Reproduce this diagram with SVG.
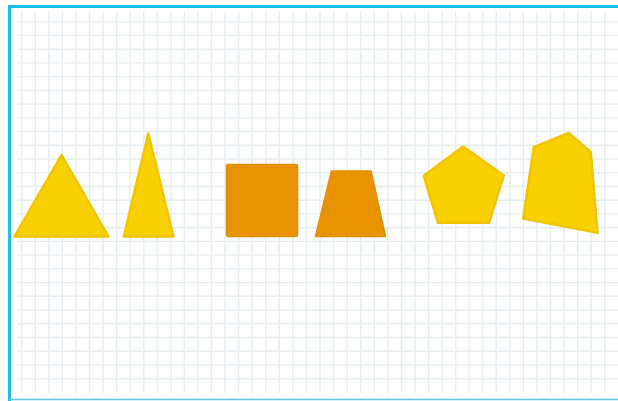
<svg xmlns="http://www.w3.org/2000/svg" width="618" height="401" viewBox="0 0 618 401">
<defs>
<style>
.grid{stroke:#e6edf0;stroke-width:1.4;fill:none}
.yel{fill:#f9d100;stroke:#f1c400;stroke-width:2.5;stroke-linejoin:round}
.org{fill:#e99300;stroke:#e38d00;stroke-width:1.5;stroke-linejoin:round}
</style>
</defs>
<rect x="0" y="0" width="618" height="401" fill="#ffffff"/>
<g id="grid">
<path class="grid" d="M21.7 11V393M35.3 11V393M48.8 11V393M62.4 11V393M75.9 11V393M89.5 11V393M103.1 11V393M116.6 11V393M130.2 11V393M143.7 11V393M157.3 11V393M170.9 11V393M184.4 11V393M198 11V393M211.5 11V393M225.1 11V393M238.7 11V393M252.2 11V393M265.8 11V393M279.3 11V393M292.9 11V393M306.5 11V393M320 11V393M333.6 11V393M347.1 11V393M360.7 11V393M374.3 11V393M387.8 11V393M401.4 11V393M414.9 11V393M428.5 11V393M442.1 11V393M455.6 11V393M469.2 11V393M482.7 11V393M496.3 11V393M509.9 11V393M523.4 11V393M537 11V393M550.5 11V393M564.1 11V393M577.7 11V393M591.2 11V393M604.8 11V393"/>
<path class="grid" d="M18 21.7H618M18 35.4H618M18 49.2H618M18 62.9H618M18 76.6H618M18 90.4H618M18 104.1H618M18 117.8H618M18 131.5H618M18 145.3H618M18 159H618M18 172.7H618M18 186.5H618M18 200.2H618M18 213.9H618M18 227.7H618M18 241.4H618M18 255.1H618M18 268.8H618M18 282.6H618M18 296.3H618M18 310H618M18 323.8H618M18 337.5H618M18 351.2H618M18 365H618M18 378.7H618"/>
</g>
<g id="frame">
<path d="M9.5 401V6.5H618" fill="none" stroke="#1dbfe6" stroke-width="3"/>
<path d="M9 399.5H618" fill="none" stroke="#5cc8e6" stroke-width="1.5"/>
</g>
<g id="triangle-equilateral"><polygon class="yel" points="61.5,155 14.5,236.5 108.5,236.5"/></g>
<g id="triangle-isosceles"><polygon class="yel" points="148.3,133.5 123.8,236.5 173.5,236.5"/></g>
<g id="square"><rect class="org" x="226.5" y="164.5" width="71" height="72" rx="1.5"/></g>
<g id="trapezoid"><polygon class="org" points="331.5,171 371,171 385.5,236.5 315.5,236.5"/></g>
<g id="pentagon"><polygon class="yel" points="463.3,146.5 503.8,175.5 489,222.8 438,222.8 423.8,175.8"/></g>
<g id="irregular-pentagon"><polygon class="yel" points="533.8,147.2 568.7,133 590.8,152.2 597.5,232.8 523.2,218.5"/></g>
</svg>
